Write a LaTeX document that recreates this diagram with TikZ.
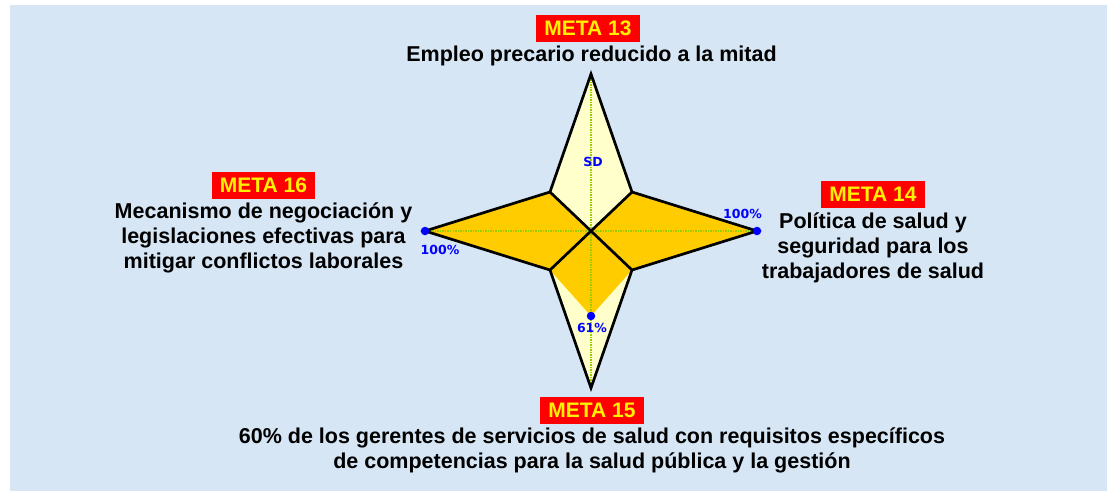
\documentclass[tikz,border=0pt]{standalone}
\usepackage{fontspec}
\setmainfont{Liberation Sans}
\newfontfamily\valfont{DejaVu Sans}
\definecolor{bgblue}{RGB}{214,230,244}
\definecolor{paleyellow}{RGB}{255,255,204}
\definecolor{goldfill}{RGB}{255,204,0}
\definecolor{axisgreen}{RGB}{153,204,0}

\begin{document}
\begin{tikzpicture}[x = 1pt, y = 1pt,
		meta/.style = {fill = red, text = yellow, font = \fontsize{21}{25}\selectfont\bfseries, inner xsep = 8pt, inner ysep = 0pt, minimum height = 27pt},
		goal/.style = {align = center, font = \fontsize{21.5}{25}\selectfont\bfseries},
		val/.style = {text = blue, font = \valfont\fontsize{12.5}{14}\selectfont\bfseries},
		dot/.style = {circle, fill = blue, inner sep = 0pt, minimum size = 8.5pt}]
			\useasboundingbox (-591, -260) rectangle (516, 231);
			\fill[bgblue] (-581, -260) rectangle (516, 226);
			% star points
			\coordinate (o) at (0, 0);
			\coordinate (n) at (0, 157);
			\coordinate (s) at (0, -157);
			\coordinate (w) at (-166, 0);
			\coordinate (e) at (166, 0);
			\coordinate (nw) at (-41, 39);
			\coordinate (ne) at (41, 39);
			\coordinate (sw) at (-41, -39);
			\coordinate (se) at (41, -39);
			\coordinate (p61) at (0, -85);
			\fill[paleyellow] (w) -- (nw) -- (n) -- (ne) -- (e) -- (se) -- (s) -- (sw) -- cycle;
			\fill[goldfill] (w) -- (nw) -- (o) -- (ne) -- (e) -- (se) -- (p61) -- (sw) -- cycle;
			\draw[axisgreen, densely dotted, line width = 1.5pt] (w) -- (e);
			\draw[axisgreen, densely dotted, line width = 1.5pt] (n) -- (s);
			\draw[black, line width = 2.7pt] (w) -- (nw) -- (n) -- (ne) -- (e) -- (se) -- (s) -- (sw) -- cycle;
			\draw[black, line width = 2.7pt] (nw) -- (se);
			\draw[black, line width = 2.7pt] (ne) -- (sw);
			\node[dot] (dw) at (w) {};
			\node[dot] (de) at (e) {};
			\node[dot] (ds) at (p61) {};
			\node[val] (vn) at (2, 69) {SD};
			\node[val] (vw) at (-151, -19) {100\%};
			\node[val] (ve) at (151.5, 17) {100\%};
			\node[val] (vs) at (1, -97) {61\%};
			% goals
			\node[meta] (m13) at (-3, 202.5) {META 13};
			\node[goal] (g13) at (0.5, 175) {Empleo precario reducido a la mitad};
			\node[meta] (m14) at (282, 37) {META 14};
			\node[goal] (g14) at (282, -16.5) {Política de salud y\\seguridad para los\\trabajadores de salud};
			\node[meta] (m15) at (1, -179) {META 15};
			\node[goal] (g15) at (1, -219) {60\% de los gerentes de servicios de salud con requisitos específicos\\de competencias para la salud pública y la gestión};
			\node[meta] (m16) at (-327.5, 46) {META 16};
			\node[goal] (g16) at (-327.5, -7) {Mecanismo de negociación y\\legislaciones efectivas para\\mitigar conflictos laborales};
		\end{tikzpicture}
\end{document}
